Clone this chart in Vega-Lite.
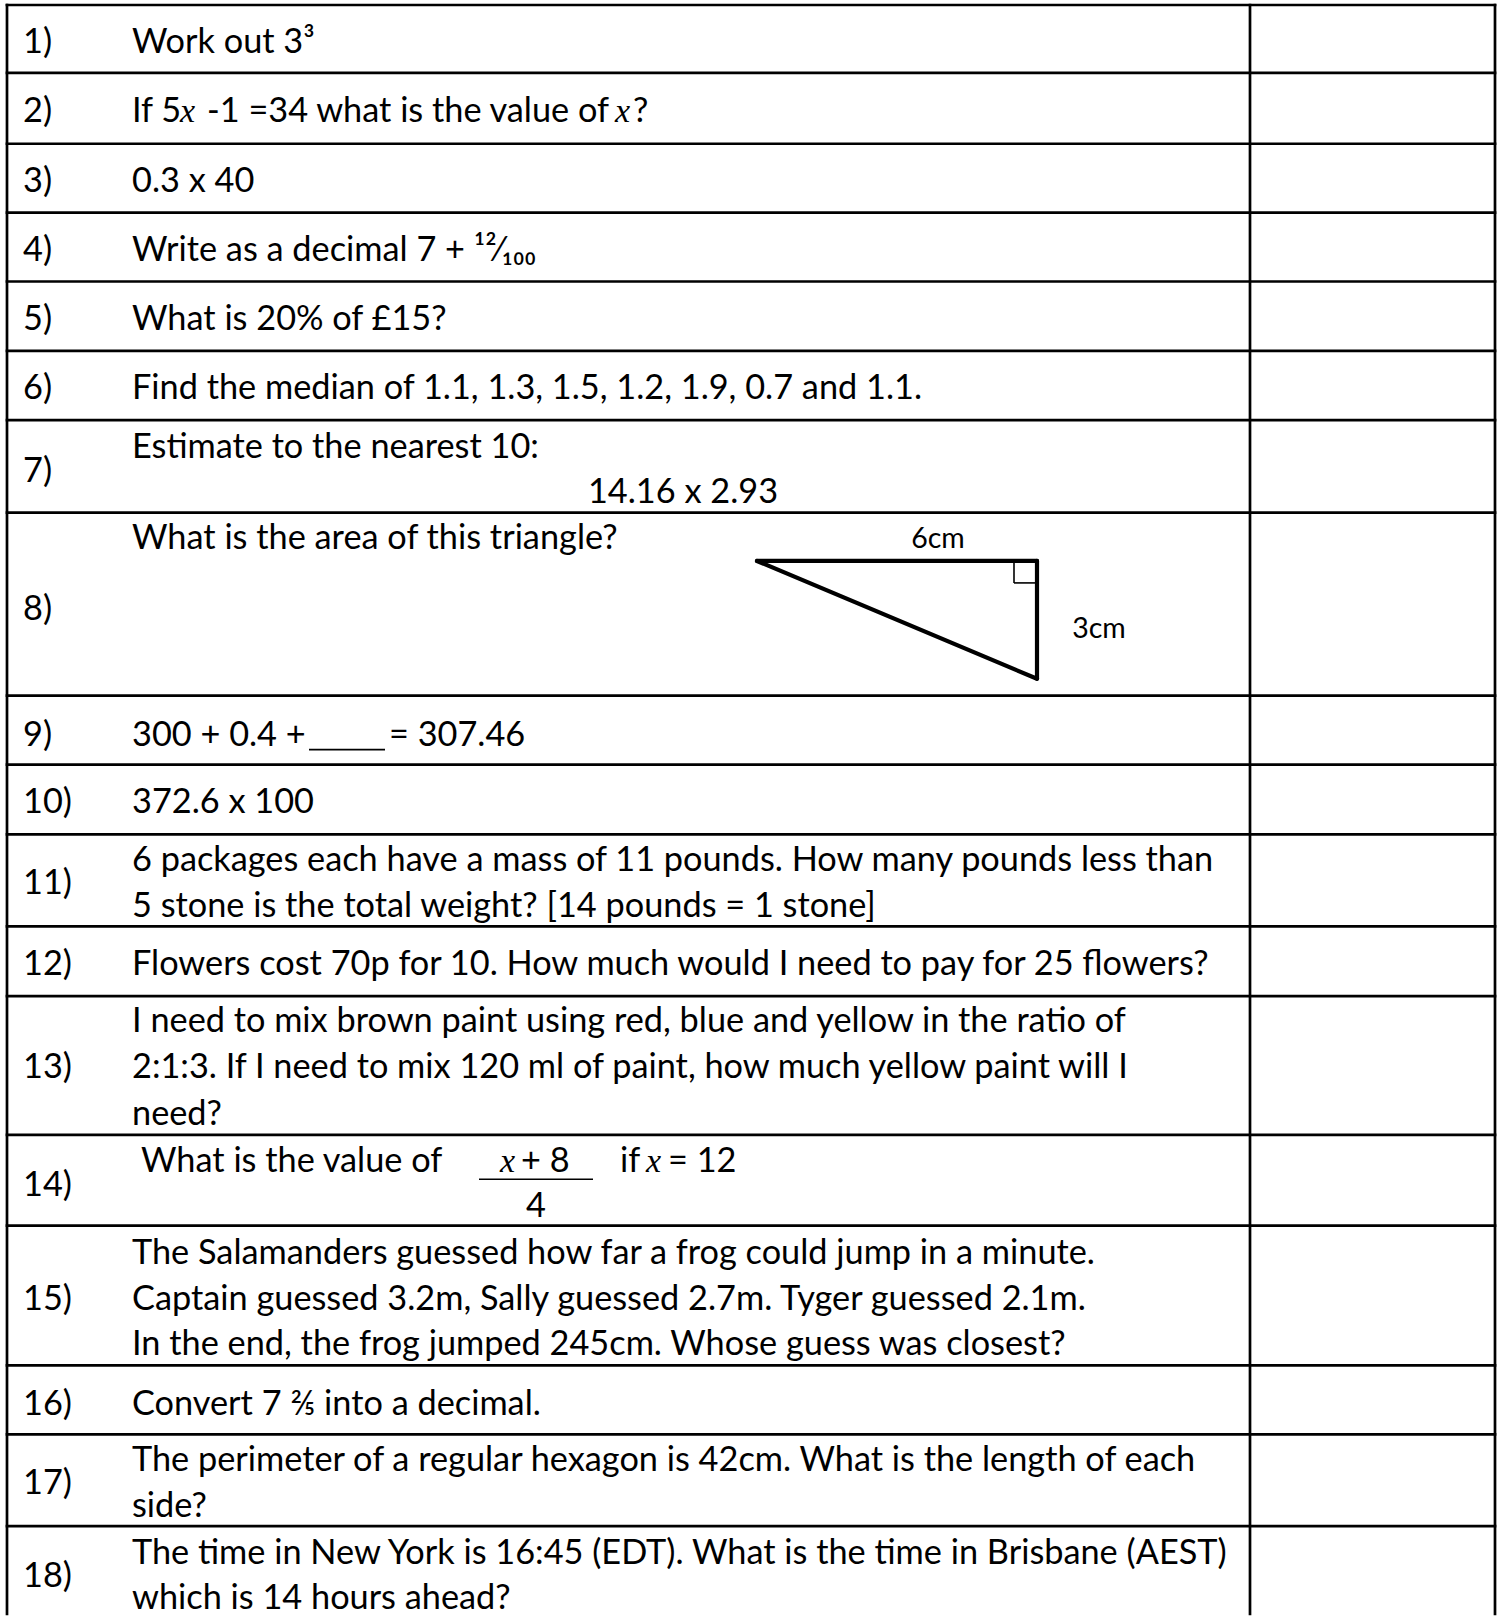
{
  "$schema": "https://vega.github.io/schema/vega-lite/v6.json",
  "width": 1497,
  "height": 1617,
  "autosize": {"type": "fit", "contains": "padding"},
  "padding": 0,
  "background": "white",
  "config": {"view": {"stroke": null}},
  "datasets": {
    "table": [
      {"x": 7, "y": 5, "x2": 1495, "y2": 5},
      {"x": 7, "y": 73, "x2": 1495, "y2": 73},
      {"x": 7, "y": 144, "x2": 1495, "y2": 144},
      {"x": 7, "y": 213, "x2": 1495, "y2": 213},
      {"x": 7, "y": 282, "x2": 1495, "y2": 282},
      {"x": 7, "y": 351.5, "x2": 1495, "y2": 351.5},
      {"x": 7, "y": 421, "x2": 1495, "y2": 421},
      {"x": 7, "y": 513.5, "x2": 1495, "y2": 513.5},
      {"x": 7, "y": 697, "x2": 1495, "y2": 697},
      {"x": 7, "y": 766, "x2": 1495, "y2": 766},
      {"x": 7, "y": 836, "x2": 1495, "y2": 836},
      {"x": 7, "y": 928, "x2": 1495, "y2": 928},
      {"x": 7, "y": 998, "x2": 1495, "y2": 998},
      {"x": 7, "y": 1137, "x2": 1495, "y2": 1137},
      {"x": 7, "y": 1228, "x2": 1495, "y2": 1228},
      {"x": 7, "y": 1368, "x2": 1495, "y2": 1368},
      {"x": 7, "y": 1437, "x2": 1495, "y2": 1437},
      {"x": 7, "y": 1529, "x2": 1495, "y2": 1529},
      {"x": 7, "y": 5, "x2": 7, "y2": 1617},
      {"x": 1250, "y": 5, "x2": 1250, "y2": 1617},
      {"x": 1495, "y": 5, "x2": 1495, "y2": 1617}
    ],
    "triangle": [
      {"x": 757, "y": 562, "x2": 1037, "y2": 562},
      {"x": 1037, "y": 562, "x2": 1037, "y2": 680},
      {"x": 757, "y": 562, "x2": 1037, "y2": 680}
    ],
    "thin": [
      {"x": 1014, "y": 562, "x2": 1014, "y2": 584},
      {"x": 1014, "y": 584, "x2": 1037, "y2": 584},
      {"x": 309, "y": 751, "x2": 385, "y2": 751},
      {"x": 479, "y": 1181.5, "x2": 593, "y2": 1181.5}
    ],
    "numbers": [
      {"x": 23, "y": 53, "text": "1)"},
      {"x": 23, "y": 122, "text": "2)"},
      {"x": 23, "y": 192, "text": "3)"},
      {"x": 23, "y": 261.5, "text": "4)"},
      {"x": 23, "y": 331, "text": "5)"},
      {"x": 23, "y": 400, "text": "6)"},
      {"x": 23, "y": 483, "text": "7)"},
      {"x": 23, "y": 621, "text": "8)"},
      {"x": 23, "y": 747, "text": "9)"},
      {"x": 23, "y": 815, "text": "10)"},
      {"x": 23, "y": 896, "text": "11)"},
      {"x": 23, "y": 977, "text": "12)"},
      {"x": 23, "y": 1080, "text": "13)"},
      {"x": 23, "y": 1198, "text": "14)"},
      {"x": 23, "y": 1312, "text": "15)"},
      {"x": 23, "y": 1418, "text": "16)"},
      {"x": 23, "y": 1497, "text": "17)"},
      {"x": 23, "y": 1590, "text": "18)"}
    ],
    "questions": [
      {"x": 132, "y": 53, "text": "Work out 3³"},
      {"x": 132, "y": 122, "text": "If 5"},
      {"x": 207, "y": 122, "text": "-1 =34 what is the value of"},
      {"x": 633, "y": 122, "text": "?"},
      {"x": 132, "y": 192, "text": "0.3 x 40"},
      {"x": 132, "y": 261.5, "text": "Write as a decimal 7 + ¹²⁄₁₀₀"},
      {"x": 132, "y": 331, "text": "What is 20% of £15?"},
      {"x": 132, "y": 400, "text": "Find the median of 1.1, 1.3, 1.5, 1.2, 1.9, 0.7 and 1.1."},
      {"x": 132, "y": 458.5, "text": "Estimate to the nearest 10:"},
      {"x": 132, "y": 550, "text": "What is the area of this triangle?"},
      {"x": 132, "y": 747, "text": "300 + 0.4 +"},
      {"x": 389, "y": 747, "text": "= 307.46"},
      {"x": 132, "y": 815, "text": "372.6 x 100"},
      {"x": 132, "y": 873, "text": "6 packages each have a mass of 11 pounds. How many pounds less than"},
      {"x": 132, "y": 919, "text": "5 stone is the total weight? [14 pounds = 1 stone]"},
      {"x": 132, "y": 977, "text": "Flowers cost 70p for 10. How much would I need to pay for 25 flowers?"},
      {"x": 132, "y": 1034, "text": "I need to mix brown paint using red, blue and yellow in the ratio of"},
      {"x": 132, "y": 1080, "text": "2:1:3. If I need to mix 120 ml of paint, how much yellow paint will I"},
      {"x": 132, "y": 1127, "text": "need?"},
      {"x": 141, "y": 1174, "text": "What is the value of"},
      {"x": 521, "y": 1174, "text": "+ 8"},
      {"x": 620, "y": 1174, "text": "if"},
      {"x": 668, "y": 1174, "text": "= 12"},
      {"x": 132, "y": 1266, "text": "The Salamanders guessed how far a frog could jump in a minute."},
      {"x": 132, "y": 1312, "text": "Captain guessed 3.2m, Sally guessed 2.7m. Tyger guessed 2.1m."},
      {"x": 132, "y": 1358, "text": "In the end, the frog jumped 245cm. Whose guess was closest?"},
      {"x": 132, "y": 1418, "text": "Convert 7 ⅖ into a decimal."},
      {"x": 132, "y": 1474, "text": "The perimeter of a regular hexagon is 42cm. What is the length of each"},
      {"x": 132, "y": 1520, "text": "side?"},
      {"x": 132, "y": 1567, "text": "The time in New York is 16:45 (EDT). What is the time in Brisbane (AEST)"},
      {"x": 132, "y": 1612, "text": "which is 14 hours ahead?"}
    ],
    "centered": [
      {"x": 683, "y": 504, "text": "14.16 x 2.93"},
      {"x": 536, "y": 1219.5, "text": "4"}
    ],
    "labels": [
      {"x": 938, "y": 549, "text": "6cm"},
      {"x": 1099, "y": 639, "text": "3cm"}
    ],
    "mathvars": [
      {"x": 180, "y": 122, "text": "x"},
      {"x": 615, "y": 122, "text": "x"},
      {"x": 500, "y": 1174, "text": "x"},
      {"x": 646, "y": 1174, "text": "x"}
    ]
  },
  "encoding": {
    "x": {"field": "x", "type": "quantitative", "scale": {"domain": [0, 1497], "nice": false, "zero": false}, "axis": null},
    "y": {"field": "y", "type": "quantitative", "scale": {"domain": [0, 1617], "reverse": true, "nice": false, "zero": false}, "axis": null}
  },
  "layer": [
    {
      "data": {"name": "table"},
      "mark": {"type": "rule", "color": "black", "strokeWidth": 2.7, "strokeCap": "square"},
      "encoding": {"x2": {"field": "x2"}, "y2": {"field": "y2"}}
    },
    {
      "data": {"name": "triangle"},
      "mark": {"type": "rule", "color": "black", "strokeWidth": 4.2, "strokeCap": "round"},
      "encoding": {"x2": {"field": "x2"}, "y2": {"field": "y2"}}
    },
    {
      "data": {"name": "thin"},
      "mark": {"type": "rule", "color": "black", "strokeWidth": 1.6},
      "encoding": {"x2": {"field": "x2"}, "y2": {"field": "y2"}}
    },
    {
      "data": {"name": "numbers"},
      "mark": {"type": "text", "align": "left", "baseline": "alphabetic", "font": "Lato", "fontSize": 34.3, "color": "black"},
      "encoding": {"text": {"field": "text"}}
    },
    {
      "data": {"name": "questions"},
      "mark": {"type": "text", "align": "left", "baseline": "alphabetic", "font": "Lato", "fontSize": 34.3, "color": "black"},
      "encoding": {"text": {"field": "text"}}
    },
    {
      "data": {"name": "centered"},
      "mark": {"type": "text", "align": "center", "baseline": "alphabetic", "font": "Lato", "fontSize": 34.3, "color": "black"},
      "encoding": {"text": {"field": "text"}}
    },
    {
      "data": {"name": "labels"},
      "mark": {"type": "text", "align": "center", "baseline": "alphabetic", "font": "Lato", "fontSize": 28.5, "color": "black"},
      "encoding": {"text": {"field": "text"}}
    },
    {
      "data": {"name": "mathvars"},
      "mark": {"type": "text", "align": "left", "baseline": "alphabetic", "font": "Liberation Serif", "fontStyle": "italic", "fontSize": 34, "color": "black"},
      "encoding": {"text": {"field": "text"}}
    }
  ]
}
